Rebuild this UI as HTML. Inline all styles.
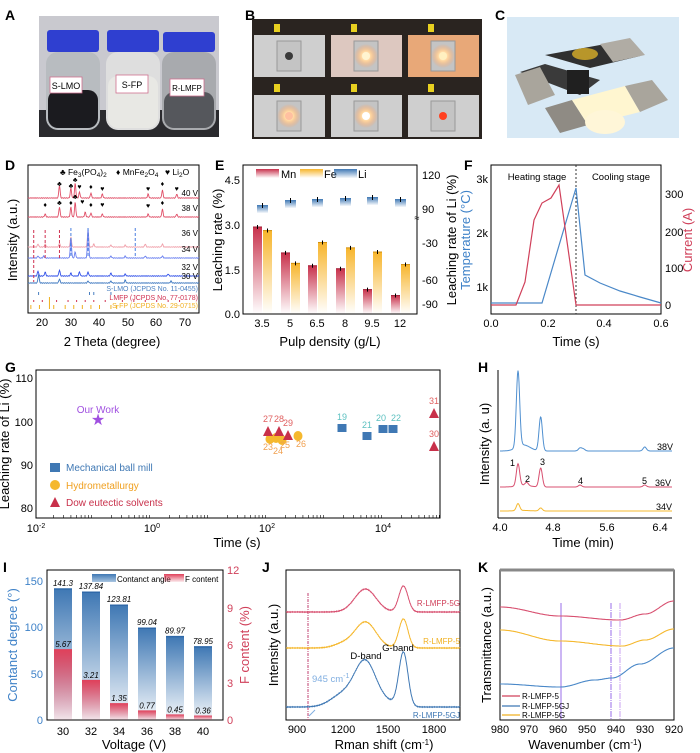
<!DOCTYPE html>
<html><head><meta charset="utf-8"><style>
html,body{margin:0;padding:0;background:#fff}
svg{display:block;font-family:"Liberation Sans",Arial,sans-serif}
.t{font-size:11px}
.ti{font-size:13px}
.L{font-size:14px;font-weight:bold}
</style></head><body>
<svg id="s" width="700" height="753" viewBox="0 0 700 753" xmlns="http://www.w3.org/2000/svg">
<defs>
<linearGradient id="gr" x1="0" y1="0" x2="0" y2="1"><stop offset="0" stop-color="#c8324c"/><stop offset="1" stop-color="#c8324c" stop-opacity="0"/></linearGradient>
<linearGradient id="gy" x1="0" y1="0" x2="0" y2="1"><stop offset="0" stop-color="#f7b52c"/><stop offset="1" stop-color="#f7b52c" stop-opacity="0"/></linearGradient>
<linearGradient id="gb" x1="0" y1="0" x2="0" y2="1"><stop offset="0" stop-color="#3f78b4"/><stop offset="1" stop-color="#3f78b4" stop-opacity="0.05"/></linearGradient>
<linearGradient id="gbl" x1="0" y1="0" x2="0" y2="1"><stop offset="0" stop-color="#3f78b4"/><stop offset="1" stop-color="#a8c4e0"/></linearGradient>
<linearGradient id="gr2" x1="0" y1="0" x2="0" y2="1"><stop offset="0" stop-color="#e0405a"/><stop offset="1" stop-color="#e0405a" stop-opacity="0.1"/></linearGradient>
<radialGradient id="glow"><stop offset="0" stop-color="#fff"/><stop offset=".4" stop-color="#ffd7a0"/><stop offset="1" stop-color="#ffa060" stop-opacity="0"/></radialGradient>
</defs>
<text x="5" y="20" class="L">A</text><text x="245" y="20" class="L">B</text><text x="495" y="20" class="L">C</text>
<rect x="39" y="16" width="180" height="121" fill="#c9c9cf"/>
<rect x="39" y="110" width="180" height="27" fill="#2a2a2e"/>
<g>
<rect x="46" y="52" width="54" height="78" rx="12" fill="#b8bcc0"/><rect x="48" y="90" width="50" height="38" rx="10" fill="#1b1b1f"/>
<rect x="47" y="30" width="52" height="22" rx="3" fill="#2f3fd0"/>
<rect x="106" y="52" width="54" height="78" rx="12" fill="#dedede"/><rect x="108" y="76" width="50" height="52" rx="10" fill="#e8e8e4"/>
<rect x="107" y="30" width="52" height="22" rx="3" fill="#2f3fd0"/>
<rect x="162" y="52" width="54" height="78" rx="12" fill="#a8aaae"/><rect x="164" y="92" width="50" height="36" rx="10" fill="#55575c"/>
<rect x="163" y="32" width="52" height="20" rx="3" fill="#2f3fd0"/>
<rect x="50" y="77" width="32" height="16" fill="#fff" stroke="#d07090" stroke-width=".8"/><text x="66" y="89" font-size="9" text-anchor="middle">S-LMO</text>
<rect x="116" y="75" width="32" height="18" fill="#fff" stroke="#d07090" stroke-width=".8"/><text x="132" y="88" font-size="9" text-anchor="middle">S-FP</text>
<rect x="170" y="79" width="34" height="17" fill="#fff" stroke="#d07090" stroke-width=".8"/><text x="187" y="91" font-size="8" text-anchor="middle">R-LMFP</text>
</g>
<rect x="252" y="19" width="230" height="120" fill="#2a2420"/>
<g id="bcells"></g>
<rect x="507" y="17" width="172" height="121" fill="#d8e9f5"/>
<polygon points="520,72 545,64 600,80 580,95" fill="#3a3a3a"/>
<polygon points="545,55 600,45 640,56 590,68" fill="#303030"/>
<polygon points="515,75 540,67 555,95 528,105" fill="#a9a59c"/>
<polygon points="600,44 630,38 645,55 613,62" fill="#b0aca4"/>
<ellipse cx="585" cy="54" rx="13" ry="6" fill="#b8962a"/>
<rect x="567" y="70" width="22" height="24" fill="#202020"/>
<polygon points="545,108 572,100 588,125 560,133" fill="#8f8b84"/>
<polygon points="572,100 625,86 640,112 588,125" fill="#fff6d0"/>
<polygon points="625,86 652,80 668,100 640,112" fill="#a9a59c"/>
<ellipse cx="605" cy="122" rx="20" ry="12" fill="#fff6d8"/>

<text x="5" y="170" class="L">D</text>
<rect x="28" y="165" width="171" height="148" fill="none" stroke="#000" stroke-width="1"/>
<g id="D"></g>
<text x="60" y="175" font-size="8.5">♣ Fe<tspan font-size="6.5" dy="2">3</tspan><tspan dy="-2">(PO</tspan><tspan font-size="6.5" dy="2">4</tspan><tspan dy="-2">)</tspan><tspan font-size="6.5" dy="2">2</tspan></text>
<text x="116" y="175" font-size="8.5">♦ MnFe<tspan font-size="6.5" dy="2">2</tspan><tspan dy="-2">O</tspan><tspan font-size="6.5" dy="2">4</tspan></text>
<text x="165" y="175" font-size="8.5">♥ Li<tspan font-size="6.5" dy="2">2</tspan><tspan dy="-2">O</tspan></text>
<g font-size="8" text-anchor="end">
<text x="198" y="196">40 V</text><text x="198" y="211">38 V</text><text x="198" y="236">36 V</text><text x="198" y="252">34 V</text><text x="198" y="270">32 V</text><text x="198" y="279">30 V</text>
<text x="198" y="291" fill="#4a7fc0" font-size="7">S-LMO (JCPDS No. 11-0455)</text>
<text x="198" y="300" fill="#d03050" font-size="7">LMFP (JCPDS No. 77-0178)</text>
<text x="198" y="308" fill="#f0b020" font-size="7">S-FP (JCPDS No. 29-0715)</text>
</g>
<g class="t" text-anchor="middle"><text x="42" y="326">20</text><text x="71" y="326">30</text><text x="99" y="326">40</text><text x="128" y="326">50</text><text x="156" y="326">60</text><text x="185" y="326">70</text></g>
<text x="112" y="346" class="ti" text-anchor="middle">2 Theta (degree)</text>
<text transform="translate(17,240) rotate(-90)" class="ti" text-anchor="middle">Intensity (a.u.)</text>

<text x="215" y="170" class="L">E</text>
<rect x="243" y="165" width="174" height="149" fill="none" stroke="#000"/>
<g id="E"></g>
<g class="t" text-anchor="end"><text x="240" y="184">4.5</text><text x="240" y="229">3.0</text><text x="240" y="274">1.5</text><text x="240" y="318">0.0</text></g>
<g class="t"><text x="422" y="179">120</text><text x="422" y="213">90</text><text x="422" y="247">-30</text><text x="422" y="284">-60</text><text x="422" y="308">-90</text></g>
<text x="417" y="221" font-size="9" text-anchor="middle">≈</text>
<g class="t" text-anchor="middle"><text x="262" y="327">3.5</text><text x="290" y="327">5</text><text x="317" y="327">6.5</text><text x="345" y="327">8</text><text x="372" y="327">9.5</text><text x="400" y="327">12</text></g>
<text x="330" y="346" class="ti" text-anchor="middle">Pulp density (g/L)</text>
<text transform="translate(222,240) rotate(-90)" class="ti" text-anchor="middle">Leaching rate (%)</text>
<text transform="translate(456,240) rotate(-90)" class="ti" text-anchor="middle">Leaching rate of Li (%)</text>
<rect x="256" y="169" width="23" height="9" fill="url(#gr)"/><text x="281" y="178" class="t">Mn</text>
<rect x="300" y="169" width="23" height="9" fill="url(#gy)"/><text x="324" y="178" class="t">Fe</text>
<rect x="334" y="169" width="23" height="9" fill="url(#gb)"/><text x="358" y="178" class="t">Li</text>

<text x="464" y="170" class="L">F</text>
<rect x="491" y="165" width="170" height="149" fill="none" stroke="#000"/>
<line x1="576" y1="165" x2="576" y2="314" stroke="#333" stroke-dasharray="2,2"/>
<polyline points="491,303 542,303 576,188 585,275 600,283 620,291 640,297 661,303" fill="none" stroke="#4a88c8" stroke-width="1.2"/>
<polyline points="491,305 516,305 525,282 534,220 542,203 551,198 559,185 576,305 661,305" fill="none" stroke="#d0405a" stroke-width="1.2"/>
<text x="537" y="180" font-size="9.5" text-anchor="middle">Heating stage</text><text x="621" y="180" font-size="9.5" text-anchor="middle">Cooling stage</text>
<g class="t" text-anchor="end"><text x="488" y="183">3k</text><text x="488" y="237">2k</text><text x="488" y="291">1k</text></g>
<g class="t"><text x="665" y="198">300</text><text x="665" y="236">200</text><text x="665" y="272">100</text><text x="665" y="309">0</text></g>
<g class="t" text-anchor="middle"><text x="491" y="327">0.0</text><text x="548" y="327">0.2</text><text x="604" y="327">0.4</text><text x="661" y="327">0.6</text></g>
<text x="576" y="346" class="ti" text-anchor="middle">Time (s)</text>
<text transform="translate(470,240) rotate(-90)" class="ti" text-anchor="middle" fill="#3f82c8">Temperature (°C)</text>
<text transform="translate(692,240) rotate(-90)" class="ti" text-anchor="middle" fill="#d0405a">Current (A)</text>

<text x="5" y="372" class="L">G</text>
<rect x="36" y="370" width="404" height="148" fill="none" stroke="#000"/>
<g id="G"></g>
<g class="t" text-anchor="end"><text x="33" y="382">110</text><text x="33" y="426">100</text><text x="33" y="469">90</text><text x="33" y="512">80</text></g>
<g class="t" text-anchor="middle"><text x="36" y="532">10<tspan font-size="7" dy="-4">-2</tspan></text><text x="152" y="532">10<tspan font-size="7" dy="-4">0</tspan></text><text x="267" y="532">10<tspan font-size="7" dy="-4">2</tspan></text><text x="383" y="532">10<tspan font-size="7" dy="-4">4</tspan></text></g>
<text x="237" y="547" class="ti" text-anchor="middle">Time (s)</text>
<text transform="translate(9,444) rotate(-90)" class="ti" text-anchor="middle">Leaching rate of Li (%)</text>
<text x="98" y="413" font-size="10" fill="#a050e0" text-anchor="middle">Our Work</text>
<text x="98" y="425" font-size="16" fill="#a050e0" text-anchor="middle">★</text>
<rect x="50" y="463" width="10" height="9" fill="#3f78b4"/><text x="66" y="471" font-size="10" fill="#3f78b4">Mechanical ball mill</text>
<circle cx="55" cy="485" r="5" fill="#f5b82e"/><text x="66" y="489" font-size="10" fill="#f0a020">Hydrometallurgy</text>
<polygon points="50,507 60,507 55,497" fill="#c8304a"/><text x="66" y="506" font-size="10" fill="#c8304a">Dow eutectic solvents</text>

<text x="478" y="372" class="L">H</text>
<line x1="498" y1="370" x2="498" y2="518" stroke="#000"/><line x1="498" y1="518" x2="672" y2="518" stroke="#000"/>
<g id="H"></g>
<g class="t" text-anchor="middle"><text x="500" y="531">4.0</text><text x="553" y="531">4.8</text><text x="607" y="531">5.6</text><text x="660" y="531">6.4</text></g>
<text x="583" y="547" class="ti" text-anchor="middle">Time (min)</text>
<text transform="translate(489,444) rotate(-90)" class="ti" text-anchor="middle">Intensity (a. u)</text>
<g font-size="9"><text x="657" y="450">38V</text><text x="655" y="486">36V</text><text x="656" y="510">34V</text>
<text x="510" y="466">1</text><text x="525" y="482">2</text><text x="540" y="465">3</text><text x="578" y="484">4</text><text x="642" y="484">5</text></g>

<text x="3" y="572" class="L">I</text>
<rect x="47" y="570" width="176" height="150" fill="none" stroke="#000"/>
<g id="I"></g>
<g class="t" text-anchor="end" fill="#3f82c8"><text x="43" y="585">150</text><text x="43" y="631">100</text><text x="43" y="678">50</text><text x="43" y="724">0</text></g>
<g class="t" fill="#d0405a"><text x="227" y="574">12</text><text x="227" y="612">9</text><text x="227" y="649">6</text><text x="227" y="687">3</text><text x="227" y="724">0</text></g>
<g class="t" text-anchor="middle"><text x="63" y="735">30</text><text x="91" y="735">32</text><text x="119" y="735">34</text><text x="147" y="735">36</text><text x="175" y="735">38</text><text x="203" y="735">40</text></g>
<text x="134" y="749" class="ti" text-anchor="middle">Voltage (V)</text>
<text transform="translate(17,645) rotate(-90)" class="ti" text-anchor="middle" fill="#3f82c8">Contanct degree (°)</text>
<text transform="translate(249,645) rotate(-90)" class="ti" text-anchor="middle" fill="#d0405a">F content (%)</text>
<rect x="92" y="574" width="24" height="8" fill="url(#gbl)"/><text x="117" y="582" font-size="8">Contanct angle</text>
<rect x="164" y="574" width="20" height="8" fill="url(#gr2)"/><text x="185" y="582" font-size="8">F content</text>

<text x="262" y="572" class="L">J</text>
<rect x="286" y="570" width="174" height="150" fill="none" stroke="#000"/>
<line x1="308" y1="593" x2="308" y2="720" stroke="#c04070" stroke-dasharray="3,1,1,1"/>
<g id="J"></g>
<g font-size="8" text-anchor="end"><text x="460" y="606" fill="#d0405a">R-LMFP-5G</text><text x="460" y="644" fill="#f0b020">R-LMFP-5</text><text x="460" y="718" fill="#3f78b4">R-LMFP-5GJ</text></g>
<text x="366" y="659" font-size="9.5" text-anchor="middle">D-band</text><text x="398" y="651" font-size="9.5" text-anchor="middle">G-band</text>
<text x="312" y="682" font-size="9.5" fill="#80aee0">945 cm<tspan font-size="7" dy="-4">-1</tspan></text>
<g class="t" text-anchor="middle"><text x="297" y="733">900</text><text x="343" y="733">1200</text><text x="388" y="733">1500</text><text x="434" y="733">1800</text></g>
<text x="384" y="749" class="ti" text-anchor="middle">Rman shift (cm<tspan font-size="8" dy="-4">-1</tspan><tspan dy="4">)</tspan></text>
<text transform="translate(278,645) rotate(-90)" class="ti" text-anchor="middle">Intensity (a.u.)</text>

<text x="478" y="572" class="L">K</text>
<rect x="500" y="570" width="174" height="150" fill="none" stroke="#000"/>
<line x1="500" y1="570" x2="674" y2="570" stroke="#888" stroke-width="3"/>
<line x1="561" y1="603" x2="561" y2="720" stroke="#9a6ee8"/>
<line x1="611" y1="603" x2="611" y2="720" stroke="#9a6ee8" stroke-dasharray="6,1,1,1"/>
<line x1="620" y1="603" x2="620" y2="720" stroke="#c8a0f0" stroke-dasharray="6,1,1,1"/>
<g id="K"></g>
<g font-size="8"><line x1="502" y1="696" x2="520" y2="696" stroke="#d0405a" stroke-width="1.3"/><text x="522" y="699">R-LMFP-5</text>
<line x1="502" y1="706" x2="520" y2="706" stroke="#3f78b4" stroke-width="1.3"/><text x="522" y="709">R-LMFP-5GJ</text>
<line x1="502" y1="715" x2="520" y2="715" stroke="#f0b020" stroke-width="1.3"/><text x="522" y="718">R-LMFP-5G</text></g>
<g class="t" text-anchor="middle"><text x="500" y="733">980</text><text x="529" y="733">970</text><text x="558" y="733">960</text><text x="587" y="733">950</text><text x="616" y="733">940</text><text x="645" y="733">930</text><text x="674" y="733">920</text></g>
<text x="585" y="749" class="ti" text-anchor="middle">Wavenumber (cm<tspan font-size="8" dy="-4">-1</tspan><tspan dy="4">)</tspan></text>
<text transform="translate(491,645) rotate(-90)" class="ti" text-anchor="middle">Transmittance (a.u.)</text>
</svg>
<script>
const NS="http://www.w3.org/2000/svg";
function el(p,tag,a,txt){const e=document.createElementNS(NS,tag);for(const k in a)e.setAttribute(k,a[k]);if(txt!=null)e.textContent=txt;document.getElementById(p).appendChild(e);return e;}
function trace(p,x0,x1,f,col,w){let d="";for(let x=x0;x<=x1;x+=0.5){d+=(d?"L":"M")+x.toFixed(1)+","+f(x).toFixed(1);}el(p,"path",{d:d,fill:"none",stroke:col,"stroke-width":w||1});}
function g(x,c,s,h){return h*Math.exp(-((x-c)*(x-c))/(2*s*s));}
const bc=[[0,"#3a3a3a",0],[1,"#fff4d0",1],[2,"#fff0c0",2],[3,"#ffc0a0",1],[4,"#fff",1],[5,"#ff4020",0]];
for(const [i,c,gl] of bc){const cx=252+(i%3)*77,cy=19+Math.floor(i/3)*60;
el("bcells","rect",{x:cx+2,y:cy+16,width:71,height:42,fill:i==2?"#e8a878":(i==1?"#ddc8c0":"#cfcfcf")});
el("bcells","rect",{x:cx+25,y:cy+22,width:24,height:30,fill:"#c4c4c4",stroke:"#999"});
if(gl)el("bcells","circle",{cx:cx+37,cy:cy+37,r:12,fill:"url(#glow)"});
el("bcells","circle",{cx:cx+37,cy:cy+37,r:4,fill:c});
el("bcells","rect",{x:cx+22,y:cy+5,width:6,height:8,fill:"#e8d020"});}
const X=t=>28+(t-15)*2.86;
function xrd(b,pk,col){trace("D",28,199,x=>{let t=15+(x-28)/2.86,y=b;for(const[p,h]of pk)y-=g(t,p,0.22,h);return y+Math.sin(x*3)*0.3;},col,0.9);}
xrd(198,[[26,13],[30,10],[31.5,15],[33,6],[37,5],[41,4],[57,4],[62,8],[67,4]],"#e05068");
xrd(217,[[21,3],[26,10],[30,10],[31.5,15],[35,5],[37,4],[41,3],[57,3],[62,8],[67,3]],"#e05068");
xrd(247,[[18.5,3],[21,3],[26,4],[30,10],[36,16],[38,3],[44,2],[49,2],[56,3],[62,3]],"#f0a0aa");
xrd(258,[[18.5,2],[20.5,2],[30,20],[31.5,6],[36,30],[44,2],[49,2],[56,2],[62,2]],"#6a80f0");
xrd(276,[[18.5,5],[21,4],[26,6],[30,3],[33,4],[36,4],[44,3],[49,2],[64,2]],"#3050e8");
xrd(283,[[18.7,8],[26,4],[36,2],[44,2],[49,3],[65,2]],"#3e78c0");
for(const[t,c]of[[17,"#d03050"],[21,"#d03050"],[26,"#d03050"]])el("D","line",{x1:X(t),y1:230,x2:X(t),y2:t==17?282:258,stroke:c,"stroke-dasharray":"3,2"});
for(const t of[30,36,52.5])el("D","line",{x1:X(t),y1:228,x2:X(t),y2:258,stroke:"#4a7fe0","stroke-dasharray":"3,2"});
for(const t of[18.7,36.5,38,44])el("D","line",{x1:X(t),y1:292,x2:X(t),y2:295,stroke:"#4a7fc0"});
for(const t of[17,20,25,29,32,35,38,42,48,52,56,60,64,68])el("D","line",{x1:X(t),y1:300,x2:X(t),y2:302,stroke:"#d03050"});
for(const t of[16,19,22.5,24,28,31,34,37,40,44,46])el("D","line",{x1:X(t),y1:t==22.5?297:305,x2:X(t),y2:309,stroke:"#f0b020"});
const sy=[[26,186,"♣"],[30,188,"♣"],[31.5,182,"♣"],[33,189,"♥"],[37,189,"♦"],[41,191,"♥"],[57,191,"♥"],[62,186,"♦"],[67,191,"♥"],[21,207,"♦"],[26,205,"♣"],[30,205,"♦"],[31.5,199,"♣"],[34,204,"♥"],[37,207,"♦"],[41,207,"♥"],[57,208,"♥"],[62,205,"♦"]];
for(const[t,y,s]of sy)el("D","text",{x:X(t),y:y,"font-size":7,"text-anchor":"middle"},s);
const ticks=[262,290,317,345,372,400],mn=[2.92,2.05,1.62,1.52,0.82,0.62],fe=[2.80,1.70,2.40,2.22,2.08,1.66],li=[208,203,202,201,200,202];
const Y=v=>314-v*29.8;
ticks.forEach((t,i)=>{el("E","rect",{x:t-9,y:Y(mn[i]),width:9,height:314-Y(mn[i]),fill:"url(#gr)"});
el("E","rect",{x:t+1,y:Y(fe[i]),width:9,height:314-Y(fe[i]),fill:"url(#gy)"});
el("E","line",{x1:t-9,y1:Y(mn[i]),x2:t,y2:Y(mn[i]),stroke:"#a02038"});el("E","line",{x1:t+1,y1:Y(fe[i]),x2:t+10,y2:Y(fe[i]),stroke:"#d09010"});
el("E","line",{x1:t-4.5,y1:Y(mn[i])-2,x2:t-4.5,y2:Y(mn[i])+2,stroke:"#000"});el("E","line",{x1:t+5.5,y1:Y(fe[i])-2,x2:t+5.5,y2:Y(fe[i])+2,stroke:"#000"});
el("E","rect",{x:t-5,y:li[i]-3,width:11,height:8,fill:"url(#gb)"});el("E","line",{x1:t+0.5,y1:li[i]-5,x2:t+0.5,y2:li[i],stroke:"#000"});});
const GX=l=>36+(l+2)*58;
const sq=[[342,428,"19",-8],[367,436,"21",-8],[383,429,"20",-8],[393,429,"22",-8]];
for(const[x,y,l,dy]of sq){el("G","rect",{x:x-4.5,y:y-4,width:9,height:8,fill:"#3f78b4"});el("G","text",{x:x+(l=="20"?-2:l=="22"?3:0),y:y+dy,"font-size":9,fill:"#5cc0c0","text-anchor":"middle"},l);}
const ci=[[270,439,"23",-2,450],[276,438,"24",2,454],[282,440,"25",3,448],[298,436,"26",3,447]];
for(const[x,y,l,dx,ly]of ci){el("G","ellipse",{cx:x,cy:y,rx:4.5,ry:5,fill:"#f5b82e"});el("G","text",{x:x+dx,y:ly,"font-size":9,fill:"#f0a050","text-anchor":"middle"},l);}
const tr=[[268,431,"27"],[279,431,"28"],[288,435,"29"],[434,413,"31"],[434,446,"30"]];
for(const[x,y,l]of tr){el("G","polygon",{points:`${x-5},${y+5} ${x+5},${y+5} ${x},${y-5}`,fill:"#c8304a"});el("G","text",{x:x,y:y-9,"font-size":9,fill:"#e06060","text-anchor":"middle"},l);}
for(let d=-2;d<5;d++)for(let k=2;k<10;k++){const x=GX(d+Math.log10(k));el("G","line",{x1:x,y1:518,x2:x,y2:515,stroke:"#000","stroke-width":.6});}
function hp(b,pk,col){trace("H",500,672,x=>{let t=4+(x-500)/66.7,y=b;for(const[p,h]of pk)y-=g(t,p,0.025,h)+ (p<4.3?g(t,p+0.08,0.1,h*0.08):0);return y;},col,1);}
hp(451,[[4.27,76],[4.61,34],[5.2,3],[5.25,2],[6.17,4]],"#5090d0");
hp(487,[[4.27,22],[4.4,3],[4.61,19],[5.2,2],[6.17,2]],"#d85070");
hp(511,[[4.27,7],[4.61,3]],"#f5b82e");
const bl=[141.3,137.84,123.81,99.04,89.97,78.95],fc=[5.67,3.21,1.35,0.77,0.45,0.36],bls=["141.3","137.84","123.81","99.04","89.97","78.95"],fcs=["5.67","3.21","1.35","0.77","0.45","0.36"];
bl.forEach((v,i)=>{const cx=63+i*28,yb=720-v*0.927,yr=720-fc[i]*12.5;
el("I","rect",{x:cx-9,y:yb,width:18,height:720-yb,fill:"url(#gb)"});el("I","line",{x1:cx-9,y1:yb,x2:cx+9,y2:yb,stroke:"#2f68a8","stroke-width":1.5});
el("I","rect",{x:cx-9,y:yr,width:18,height:720-yr,fill:"url(#gr2)"});
el("I","text",{x:cx,y:yb-3,"font-size":8,"font-style":"italic","text-anchor":"middle"},bls[i]);
el("I","text",{x:cx,y:yr-2,"font-size":8,"font-style":"italic","text-anchor":"middle"},fcs[i]);});
function jt(b,dh,gh,col,extra){trace("J",286,460,x=>{const w=900+(x-297)/0.152;let y=b-g(w,1350,70,dh)-g(w,1600,30,gh)-(extra?extra(w):0);return y+Math.sin(x*5)*0.4;},col,1);}
jt(612,23,26,"#d85070");
jt(648,26,29,"#f5b82e",w=>g(w,1200,60,4));
jt(707,45,54,"#3f78b4",w=>g(w,1200,80,12)+g(w,1500,60,8)*0.5);
el("J","line",{x1:309,y1:716,x2:315,y2:710,stroke:"#80aee0"});
function kt(pts,col){let d="";for(let x=500;x<=674;x+=1){let y;for(let i=0;i<pts.length-1;i++){if(x>=pts[i][0]&&x<=pts[i+1][0]){const s=(x-pts[i][0])/(pts[i+1][0]-pts[i][0]);const ss=(1-Math.cos(s*Math.PI))/2;y=pts[i][1]+(pts[i+1][1]-pts[i][1])*ss;}}d+=(d?"L":"M")+x+","+y.toFixed(1);}el("K","path",{d:d,fill:"none",stroke:col,"stroke-width":1.1});}
kt([[500,607],[560,616],[620,620],[645,614],[674,601]],"#d85070");
kt([[500,630],[560,641],[622,646],[645,640],[674,629]],"#f5b82e");
kt([[500,684],[560,687],[595,680],[612,678],[640,664],[674,648]],"#4a88c8");
</script>
</body></html>
